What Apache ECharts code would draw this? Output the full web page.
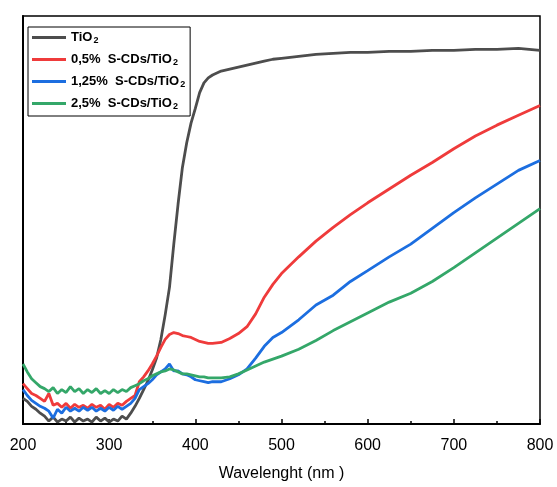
<!DOCTYPE html>
<html>
<head>
<meta charset="utf-8">
<script src="https://cdn.jsdelivr.net/npm/echarts@6/dist/echarts.min.js"></script>
<style>html,body{margin:0;padding:0;background:#fff}#c{width:557px;height:487px}</style>
</head>
<body>
<div id="c"></div>
<script>
const wavelengths = [200,205,210,215,220,225,230,235,240,245,250,255,260,265,270,275,280,285,290,295,300,305,310,315,320,325,330,335,340,345,350,355,360,365,370,375,380,385,390,395,400,405,410,415,420,430,440,450,460,470,480,490,500,520,540,560,580,600,625,650,675,700,725,750,775,800];
const tio2 = [26,23,18,15,11,8,3,7,2,5, 3,7,2,6,3,5,2,7,3,6, 2,5,3,8,5,11,18,26,35,44, 55,67,86,111,139,183,224,261,286,306, 321,337,347,352,355, 359,361,363,365,367,369,371,372, 374,376,377,378,378, 379,379,380,380,381,381,382,380];
const cds05 = [41,36,31,29,26,23,31,19,21,17, 21,16,20,17,19,16,20,17,19,15, 20,17,21,19,23,26,29,43,48,54, 61,69,78,86,91,93,92,90,89,88, 86,84,83,82,82, 83,87,92,99,112,129,142,153, 170,186,200,213,225, 239,253,266,280,293,304,314,324];
const cds125 = [35,29,24,21,18,16,13,6,15,11, 17,13,16,13,17,14,17,13,16,13, 17,14,18,15,18,21,26,35,38,41, 45,50,53,56,61,54,54,51,50,48, 45,44,43,42,43, 43,46,50,56,67,79,88,93, 106,121,131,145,156, 170,183,199,215,230,244,258,268];
const cds25 = [61,53,46,42,38,36,33,37,31,35, 32,38,33,36,31,35,32,36,31,34, 31,35,32,35,33,37,39,41,44,46, 49,51,53,54,56,55,53,51,51,50, 49,48,48,47,47, 47,48,51,55,59,63,66,69, 76,85,95,104,113, 124,133,145,159,174,189,204,219];
const seriesNames = ['TiO2','0,5%  S-CDs/TiO2','1,25%  S-CDs/TiO2','2,5%  S-CDs/TiO2'];
const legendMain = ['TiO','0,5%  S-CDs/TiO','1,25%  S-CDs/TiO','2,5%  S-CDs/TiO'];
const xTicks = [200,300,400,500,600,700,800];
const colors = ['#4d4d4d','#ef3b3b','#1c6ee0','#34a769'];
const allValues = [tio2, cds05, cds125, cds25];

const chart = echarts.init(document.getElementById('c'), null, {renderer:'canvas'});
const series = allValues.map((vals, i) => ({
  name: seriesNames[i],
  type: 'line',
  data: wavelengths.map((w, k) => [w, vals[k]]),
  showSymbol: false,
  smooth: false,
  lineStyle: {color: colors[i], width: 2.8},
  itemStyle: {color: colors[i]},
  animation: false
}));

chart.setOption({
  animation: false,
  backgroundColor: '#fff',
  grid: {left: 23, right: 17, top: 16, bottom: 56, show: true, borderColor: '#000', borderWidth: 1.5},
  legend: {
    orient: 'vertical', left: 28, top: 27,
    backgroundColor: '#fff', borderColor: '#000', borderWidth: 1,
    padding: [3, 5, 5, 4],
    itemGap: 7, itemWidth: 34, itemHeight: 3, icon: 'rect',
    data: seriesNames,
    formatter: function(name){ const i = seriesNames.indexOf(name); return '{m|' + legendMain[i] + '}{s|2}'; },
    textStyle: {
      color: '#000', fontFamily: 'Liberation Sans', fontWeight: 'bold', fontSize: 13,
      rich: {
        m: {fontFamily: 'Liberation Sans', fontWeight: 'bold', fontSize: 13, color: '#000', lineHeight: 15, verticalAlign: 'middle'},
        s: {fontFamily: 'Liberation Sans', fontWeight: 'bold', fontSize: 9, color: '#000', lineHeight: 15, verticalAlign: 'bottom', padding: [6,0,0,1]}
      }
    }
  },
  xAxis: {
    type: 'value', min: 200, max: 800, interval: 100,
    name: 'Wavelenght (nm )', nameLocation: 'middle', nameGap: 42,
    nameTextStyle: {fontFamily: 'Liberation Sans', fontSize: 16, color: '#000'},
    axisLine: {show: true, lineStyle: {color: '#000', width: 2}},
    axisTick: {show: true, inside: true, length: 5, lineStyle: {color: '#000', width: 1.5}},
    minorTick: {show: true, splitNumber: 2, length: 3, lineStyle: {color: '#000', width: 1.5}},
    axisLabel: {fontFamily: 'Liberation Sans', fontSize: 16, color: '#000', margin: 14,
      formatter: v => xTicks.includes(v) ? String(v) : ''},
    splitLine: {show: false}
  },
  yAxis: {
    type: 'value', min: 0, max: 415,
    axisLine: {show: true, lineStyle: {color: '#000', width: 2}},
    axisTick: {show: false}, axisLabel: {show: false}, splitLine: {show: false}
  },
  series: series
});
</script>
</body>
</html>
